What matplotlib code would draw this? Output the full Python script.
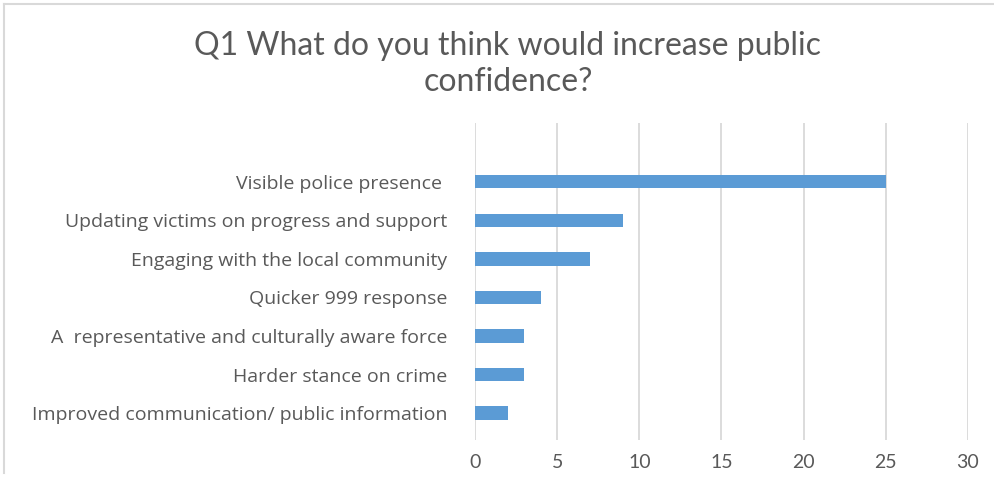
import matplotlib
matplotlib.use("Agg")
import matplotlib.pyplot as plt
from matplotlib.lines import Line2D

categories = [
    "Visible police presence ",
    "Updating victims on progress and support",
    "Engaging with the local community",
    "Quicker 999 response",
    "A  representative and culturally aware force",
    "Harder stance on crime",
    "Improved communication/ public information",
]
values = [25, 9, 7, 4, 3, 3, 2]
x_ticks = [0, 5, 10, 15, 20, 25, 30]
title = "Q1 What do you think would increase public\nconfidence?"

text_color = "#595959"
bar_color = "#5B9BD5"
grid_color = "#D9D9D9"

fig = plt.figure(figsize=(9.95, 4.79), dpi=100)
ax = fig.add_axes([475 / 995, 1 - 440 / 479, (968 - 475) / 995, (440 - 123) / 479])

n = len(categories)
ypos = list(range(n - 1, -1, -1))
ax.barh(ypos, values, height=0.34, color=bar_color, zorder=3)

ax.set_xlim(0, 30)
ax.set_ylim(-0.70, n - 1 + 1.53)
ax.set_xticks(x_ticks)
ax.set_xticklabels([str(t) for t in x_ticks], family=["Liberation Sans Narrow", "Lato"],
                   fontsize=14, color=text_color)
ax.set_yticks(ypos)
ax.set_yticklabels(categories, family="Open Sans", fontsize=14, color=text_color)
ax.tick_params(axis="both", length=0)
ax.tick_params(axis="x", pad=10)
ax.tick_params(axis="y", pad=20)
ax.grid(axis="x", color=grid_color, linewidth=1.3, zorder=0)
for s in ax.spines.values():
    s.set_visible(False)

fig.text(508 / 995, 1 - 64 / 479, title, ha="center", va="center",
         family=["Liberation Sans Narrow", "Lato"], fontsize=23, color=text_color,
         linespacing=1.22)

# chart frame edges
fig.add_artist(Line2D([4 / 995, 4 / 995], [1 - 4 / 479, 1 - 473 / 479],
                      transform=fig.transFigure, color="#D9D9D9", linewidth=1.5))
fig.add_artist(Line2D([4 / 995, 1], [1 - 4 / 479, 1 - 4 / 479],
                      transform=fig.transFigure, color="#D9D9D9", linewidth=1.5))

fig.savefig("out.png", dpi=100)
